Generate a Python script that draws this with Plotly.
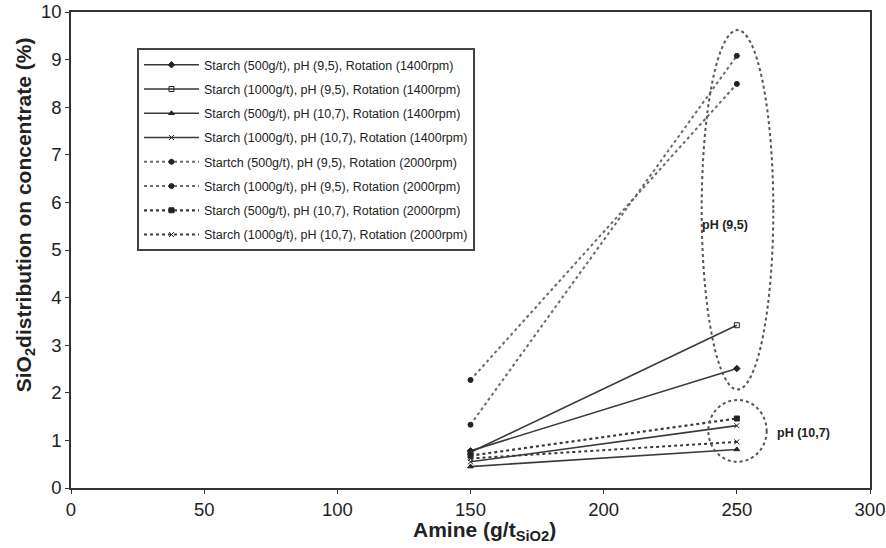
import plotly.graph_objects as go

# ---- data ----
amine = [150, 250]
names = [
    "Starch (500g/t), pH (9,5), Rotation (1400rpm)",
    "Starch (1000g/t), pH (9,5), Rotation (1400rpm)",
    "Starch (500g/t), pH (10,7), Rotation (1400rpm)",
    "Starch (1000g/t), pH (10,7), Rotation (1400rpm)",
    "Startch (500g/t), pH (9,5), Rotation (2000rpm)",
    "Starch (1000g/t), pH (9,5), Rotation (2000rpm)",
    "Starch (500g/t), pH (10,7), Rotation (2000rpm)",
    "Starch (1000g/t), pH (10,7), Rotation (2000rpm)",
]
s1 = [0.78, 2.51]
s2 = [0.75, 3.42]
s3 = [0.45, 0.81]
s4 = [0.55, 1.31]
s5 = [2.27, 8.49]
s6 = [1.33, 9.08]
s7 = [0.68, 1.46]
s8 = [0.62, 0.97]
series = [s1, s2, s3, s4, s5, s6, s7, s8]

# group annotations (ellipse bounds in data units)
ell_ph95 = dict(x0=236.8, x1=263.7, y0=2.07, y1=9.62)
ell_ph107 = dict(x0=239.3, x1=261.2, y0=0.55, y1=1.85)
x_ticks = [0, 50, 100, 150, 200, 250, 300]
y_ticks = list(range(0, 11))

# ---- styles ----
FONT = "Liberation Sans, Arial, sans-serif"
styles = [
    dict(dash="solid", color="#3a3a3a", width=1.6, symbol="diamond", mcolor="#222"),
    dict(dash="solid", color="#3a3a3a", width=1.6, symbol="square-open", mcolor="#222"),
    dict(dash="solid", color="#3a3a3a", width=1.6, symbol="triangle-up", mcolor="#222"),
    dict(dash="solid", color="#3a3a3a", width=1.6, symbol="x-thin-open", mcolor="#222"),
    dict(dash="dot", color="#6a6a6a", width=2, symbol="circle", mcolor="#222"),
    dict(dash="dot", color="#6a6a6a", width=2, symbol="circle", mcolor="#222"),
    dict(dash="dot", color="#3a3a3a", width=2.2, symbol="square", mcolor="#222"),
    dict(dash="dot", color="#3a3a3a", width=2, symbol="x-thin-open", mcolor="#222"),
]

fig = go.Figure()
for i, (nm, ys, st) in enumerate(zip(names, series, styles)):
    fig.add_trace(go.Scatter(
        x=amine, y=ys, name=nm, mode="lines+markers",
        legendgroup=f"g{i}",
        line=dict(color=st["color"], width=st["width"], dash=st["dash"]),
        marker=dict(symbol=st["symbol"], size=5, color=st["mcolor"],
                    line=dict(color=st["mcolor"], width=1)),
    ))

for e in (ell_ph95, ell_ph107):
    fig.add_shape(type="circle", xref="x", yref="y", **e,
                  line=dict(color="#555", width=2, dash="dot"), layer="above")

fig.add_annotation(x=245.6, y=5.52, xref="x", yref="y", text="<b>pH (9,5)</b>",
                   showarrow=False, font=dict(family=FONT, size=12.5, color="#222"))
fig.add_annotation(x=275.0, y=1.16, xref="x", yref="y", text="<b>pH (10,7)</b>",
                   showarrow=False, font=dict(family=FONT, size=12.5, color="#222"))

fig.add_annotation(x=0.517, y=-0.1218, xref="paper", yref="paper",
                   text="<b>Amine (g/t<sub>SiO2</sub>)</b>", showarrow=False,
                   yanchor="bottom", font=dict(family=FONT, size=21, color="#222"))
fig.add_annotation(x=-0.0576, y=0.575, xref="paper", yref="paper", textangle=-90,
                   text="<b>SiO<sub>2</sub>distribution on concentrate (%)</b>",
                   showarrow=False, xanchor="center", yanchor="middle",
                   font=dict(family=FONT, size=21, color="#222"))

axis_common = dict(showgrid=False, zeroline=False, showline=True, mirror=True,
                   linecolor="#333", linewidth=1.5, ticks="outside", ticklen=4,
                   tickcolor="#333", tickwidth=1, automargin=False,
                   tickfont=dict(family=FONT, size=18.5, color="#222"))
fig.update_xaxes(range=[0, 300], tickvals=x_ticks, **axis_common)
fig.update_yaxes(range=[0, 10], tickvals=y_ticks, **axis_common)

fig.update_layout(
    width=886, height=548,
    margin=dict(l=71, r=16, t=12, b=60, autoexpand=False),
    plot_bgcolor="white", paper_bgcolor="white",
    font=dict(family=FONT, color="#222"),
    legend=dict(x=0.0826, y=0.924, xanchor="left", yanchor="top",
                bgcolor="white", bordercolor="#444", borderwidth=2,
                font=dict(family=FONT, size=12.5, color="#222"),
                tracegroupgap=5, itemwidth=55),
    showlegend=True,
)

fig.write_html("out.html")
